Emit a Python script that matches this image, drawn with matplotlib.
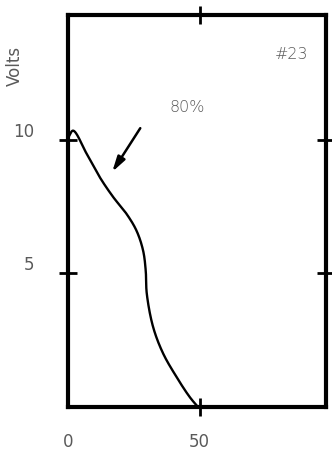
import numpy as np
import matplotlib.pyplot as plt
import matplotlib.transforms as mtransforms

# curve (percent vs volts)
pct = [0.0, 1.9, 7.1, 12.1, 17.2, 22.2, 26.0, 28.5, 29.5, 29.9, 32.3, 36.1, 41.2, 46.2, 49.4]
volts = [10.07, 10.34, 9.47, 8.59, 7.85, 7.23, 6.60, 5.86, 5.11, 4.25, 3.00, 2.01, 1.13, 0.38, 0.0]

x_ticks = [0, 50]
y_ticks = [5, 10]

gray = "#5a5a5a"


def centripetal_cr(xs, ys, sx=2.64, sy=26.8, n=40):
    # centripetal Catmull-Rom in screen-like units so unequal spacing stays smooth
    pts = np.column_stack([np.array(xs) * sx, np.array(ys) * sy])
    pts = np.vstack([2 * pts[0] - pts[1], pts, 2 * pts[-1] - pts[-2]])
    out = []
    for i in range(1, len(pts) - 2):
        p0, p1, p2, p3 = pts[i - 1], pts[i], pts[i + 1], pts[i + 2]
        t0 = 0.0
        t1 = t0 + np.linalg.norm(p1 - p0) ** 0.5
        t2 = t1 + np.linalg.norm(p2 - p1) ** 0.5
        t3 = t2 + np.linalg.norm(p3 - p2) ** 0.5
        for t in np.linspace(t1, t2, n, endpoint=False):
            a1 = (t1 - t) / (t1 - t0) * p0 + (t - t0) / (t1 - t0) * p1
            a2 = (t2 - t) / (t2 - t1) * p1 + (t - t1) / (t2 - t1) * p2
            a3 = (t3 - t) / (t3 - t2) * p2 + (t - t2) / (t3 - t2) * p3
            b1 = (t2 - t) / (t2 - t0) * a1 + (t - t0) / (t2 - t0) * a2
            b2 = (t3 - t) / (t3 - t1) * a2 + (t - t1) / (t3 - t1) * a3
            out.append((t2 - t) / (t2 - t1) * b1 + (t - t1) / (t2 - t1) * b2)
    out.append(pts[-2])
    out = np.array(out)
    return out[:, 0] / sx, out[:, 1] / sy


fig = plt.figure(figsize=(3.32, 4.59), dpi=100)
ax = fig.add_axes([0.205, 0.113, 0.777, 0.854])

cx, cy = centripetal_cr(pct, volts)
ax.plot(cx, cy, color="black", lw=1.7, solid_capstyle="round")

ax.annotate("", xy=(16.2, 8.71), xytext=(28.0, 10.52),
            arrowprops=dict(arrowstyle="-|>,head_length=0.9,head_width=0.25",
                            color="black", lw=1.8))
ax.text(45.1, 11.2, "80%", ha="center", va="center", fontsize=11.5,
        color=gray, fontweight="light")
ax.text(84.8, 13.2, "#23", ha="center", va="center", fontsize=11.5,
        color=gray, fontweight="light")

ax.set_xlim(0, 98)
ax.set_ylim(0, 14.66)
ax.set_xticks(x_ticks)
ax.set_yticks(y_ticks)
ax.set_xticklabels([str(v) for v in x_ticks])
ax.set_yticklabels([str(v) for v in y_ticks])
ax.tick_params(direction="inout", length=13, width=2, top=True, right=True,
               labeltop=False, labelright=False, labelsize=12,
               labelcolor=gray, color="black")
ax.tick_params(axis="x", pad=12)
ax.tick_params(axis="y", pad=18)

# no tick mark at the corner, only its label
t0 = ax.xaxis.get_major_ticks()[0]
t0.tick1line.set_visible(False)
t0.tick2line.set_visible(False)

# the reference prints the y labels a little above their ticks
off = mtransforms.ScaledTranslation(0, 10 / 100, fig.dpi_scale_trans)
for lab in ax.get_yticklabels():
    lab.set_transform(lab.get_transform() + off)

for s in ax.spines.values():
    s.set_linewidth(3)

ax.set_ylabel("Volts", fontsize=12, color=gray)
ax.yaxis.set_label_coords(-0.17, 0.87)

fig.savefig("out.png", dpi=100)
